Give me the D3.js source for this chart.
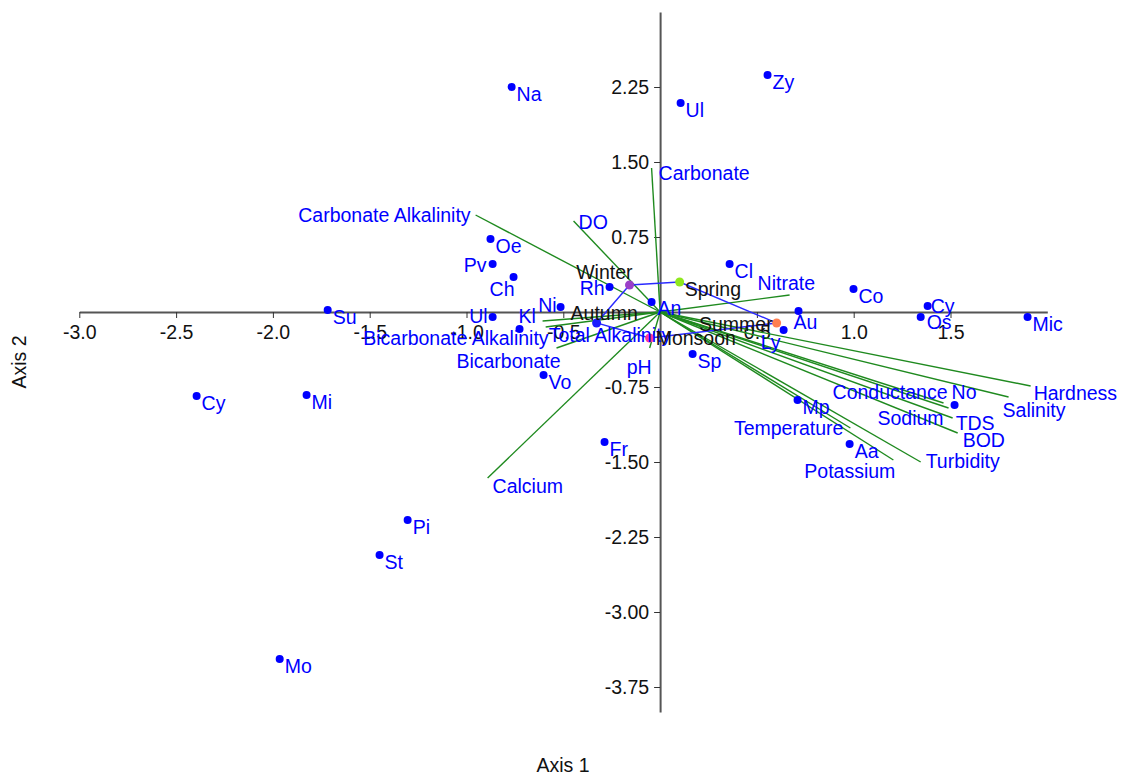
<!DOCTYPE html>
<head>
  <meta charset="utf-8">
  <title>Biplot</title>
  <script src="https://cdn.jsdelivr.net/npm/d3@7"></script>
  <style>
    body { margin: 0; background: #fff; }
    text { font-family: "Liberation Sans", Arial, sans-serif; font-size: 19.5px; }
  </style>
</head>
<body>
<div id="chart"></div>
<script>
// sites (blue dots)
const siteNames = ["Na","Ul","Zy","Oe","Pv","Ch","Cl","Co","Cy","Os","Mic","Au","Ly","Rh","An",
  "Ni","Ul","Kl","Su","Vo","Sp","Mp","No","Aa","Fr","Cy","Mi","Pi","St","Mo"];
const siteAxis1 = [-0.767,0.106,0.555,-0.876,-0.865,-0.757,0.359,0.999,1.382,1.346,1.898,0.715,0.638,-0.261,-0.044,
  -0.514,-0.865,-0.726,-1.717,-0.602,0.168,0.710,1.521,0.979,-0.287,-2.394,-1.826,-1.304,-1.449,-1.965];
const siteAxis2 = [2.25,2.09,2.37,0.73,0.48,0.35,0.48,0.23,0.06,-0.05,-0.05,0.01,-0.18,0.25,0.10,
  0.05,-0.05,-0.17,0.02,-0.63,-0.42,-0.88,-0.93,-1.32,-1.30,-0.84,-0.83,-2.08,-2.43,-3.47];

// variables (green vectors)
const varNames = ["Carbonate","Carbonate Alkalinity","DO","Nitrate","Hardness","Salinity","Conductance",
  "Sodium","TDS","BOD","Turbidity","Potassium","Temperature","Calcium","pH","Bicarbonate",
  "Bicarbonate Alkalinity","Total Alkalinity"];
const varAxis1 = [-0.044,-0.953,-0.447,0.669,1.914,1.800,1.464,1.490,1.511,1.537,1.346,1.205,0.983,-0.891,-0.054,-0.535,-0.607,-0.591];
const varAxis2 = [1.44,0.97,0.91,0.17,-0.74,-0.85,-0.91,-0.96,-1.06,-1.21,-1.50,-1.48,-1.16,-1.66,-0.36,-0.36,-0.09,-0.15];

// seasons (group points joined by the hull)
const seasonNames = ["Winter","Spring","Summer","Monsoon","Autumn"];
const seasonAxis1 = [-0.158,0.101,0.602,-0.054,-0.328];
const seasonAxis2 = [0.27,0.30,-0.11,-0.26,-0.11];
const seasonColors = ["#9b3fc8","#8fe81e","#ff7f50","#ff3c8c","#1a1aff"];

const xTicks = [-3.0,-2.5,-2.0,-1.5,-1.0,-0.5,0.5,1.0,1.5];
const yTicks = [2.25,1.50,0.75,-0.75,-1.50,-2.25,-3.00,-3.75];

// label placement tweaks [dx, dy, anchor]
const siteLabelDefault = [5, 14, "start"];
const siteLabelPlace = {
  "Ul#2": [-5, 6, "end"], "Kl#1": [-1, -6, "start"], "Ni#1": [-4, 5, "end"],
  "Rh#1": [-5, 8, "end"], "Au#1": [-5, 18, "start"], "Ly#1": [-3, 19, "end"],
  "No#1": [-3, -6, "start"], "Pv#1": [-6, 8, "end"], "Ch#1": [1, 19, "end"],
  "Cy#1": [3, 7, "start"], "An#1": [6, 13, "start"], "Os#1": [6, 12, "start"]
};
const varLabelPlace = {
  "Carbonate": [7, 12, "start"], "Carbonate Alkalinity": [-5, 7, "end"], "DO": [5, 8, "start"],
  "Nitrate": [-32, -5, "start"], "Hardness": [3, 14, "start"], "Salinity": [-6, 20, "start"],
  "Conductance": [4, -4, "end"], "Sodium": [-5, 17, "end"], "TDS": [3, 12, "start"],
  "BOD": [5, 14, "start"], "Turbidity": [5, 6, "start"], "Potassium": [2, 18, "end"],
  "Temperature": [-7, 7, "end"], "Calcium": [5, 15, "start"], "pH": [2, 26, "end"],
  "Bicarbonate": [4, 20, "end"], "Bicarbonate Alkalinity": [6, 24, "end"],
  "Total Alkalinity": [3, 15, "start"]
};
const seasonLabelPlace = {
  "Winter": [3, -6, "end"], "Spring": [5, 14, "start"], "Summer": [-4, 8, "end"],
  "Monsoon": [6, 7, "start"], "Autumn": [-26, -3, "start"]
};

const width = 1124, height = 775;
const x = d3.scaleLinear().domain([-3, 2]).range([79.3, 1047.3]);
const y = d3.scaleLinear().domain([-4, 3]).range([712, 12]);

// plain hyphen minus like the original
const fmt = f => d => d3.format(f)(d).replace("\u2212", "-");

const svg = d3.select("#chart").append("svg")
  .attr("width", width).attr("height", height);
svg.append("rect").attr("width", width).attr("height", height).attr("fill", "#fff");

// axes crossing at origin
const gx = svg.append("g").attr("transform", `translate(0,${y(0)})`)
  .call(d3.axisBottom(x).tickValues(xTicks).tickFormat(fmt(".1f"))
    .tickSize(6).tickSizeOuter(0).tickPadding(7));
const gy = svg.append("g").attr("transform", `translate(${x(0)},0)`)
  .call(d3.axisLeft(y).tickValues(yTicks).tickFormat(fmt(".2f"))
    .tickSize(6).tickSizeOuter(0).tickPadding(5));
[gx, gy].forEach(g => {
  g.select(".domain").attr("stroke", "#555").attr("stroke-width", 2);
  g.selectAll(".tick line").attr("stroke", "#333");
  g.selectAll(".tick text").attr("fill", "#111").style("font-size", "19.5px")
    .style("font-family", '"Liberation Sans", Arial, sans-serif');
});

svg.append("text").attr("x", 563).attr("y", 772).attr("text-anchor", "middle")
  .attr("fill", "#111").text("Axis 1");
svg.append("text").attr("transform", "translate(26,362) rotate(-90)")
  .attr("text-anchor", "middle").attr("fill", "#111").text("Axis 2");

// variable vectors
const vars = varNames.map((n, i) => ({ name: n, a1: varAxis1[i], a2: varAxis2[i] }));
svg.append("g").selectAll("line").data(vars).enter().append("line")
  .attr("x1", x(0)).attr("y1", y(0))
  .attr("x2", d => x(d.a1)).attr("y2", d => y(d.a2))
  .attr("stroke", "#1f8a1f").attr("stroke-width", 1.4);

// season hull
const seasons = seasonNames.map((n, i) => ({ name: n, a1: seasonAxis1[i], a2: seasonAxis2[i], c: seasonColors[i] }));
svg.append("path")
  .attr("d", d3.line().x(d => x(d.a1)).y(d => y(d.a2)).curve(d3.curveLinearClosed)(seasons))
  .attr("fill", "none").attr("stroke", "#2a2aff").attr("stroke-width", 1.4);

// sites
const seen = {};
const sites = siteNames.map((n, i) => {
  seen[n] = (seen[n] || 0) + 1;
  return { name: n, key: n + "#" + seen[n], a1: siteAxis1[i], a2: siteAxis2[i] };
});
svg.append("g").selectAll("circle").data(sites).enter().append("circle")
  .attr("cx", d => x(d.a1)).attr("cy", d => y(d.a2)).attr("r", 4).attr("fill", "#0000ff");

svg.append("g").selectAll("circle").data(seasons).enter().append("circle")
  .attr("cx", d => x(d.a1)).attr("cy", d => y(d.a2)).attr("r", 4.5).attr("fill", d => d.c);

// labels
svg.append("g").selectAll("text").data(sites).enter().append("text")
  .each(function (d) {
    const p = siteLabelPlace[d.key] || siteLabelDefault;
    d3.select(this).attr("x", x(d.a1) + p[0]).attr("y", y(d.a2) + p[1]).attr("text-anchor", p[2]);
  })
  .attr("fill", "#0000ff").text(d => d.name);

svg.append("g").selectAll("text").data(vars).enter().append("text")
  .each(function (d) {
    const p = varLabelPlace[d.name];
    d3.select(this).attr("x", x(d.a1) + p[0]).attr("y", y(d.a2) + p[1]).attr("text-anchor", p[2]);
  })
  .attr("fill", "#0000ff").text(d => d.name);

svg.append("g").selectAll("text").data(seasons).enter().append("text")
  .each(function (d) {
    const p = seasonLabelPlace[d.name];
    d3.select(this).attr("x", x(d.a1) + p[0]).attr("y", y(d.a2) + p[1]).attr("text-anchor", p[2]);
  })
  .attr("fill", "#111").text(d => d.name);
</script>
</body>
